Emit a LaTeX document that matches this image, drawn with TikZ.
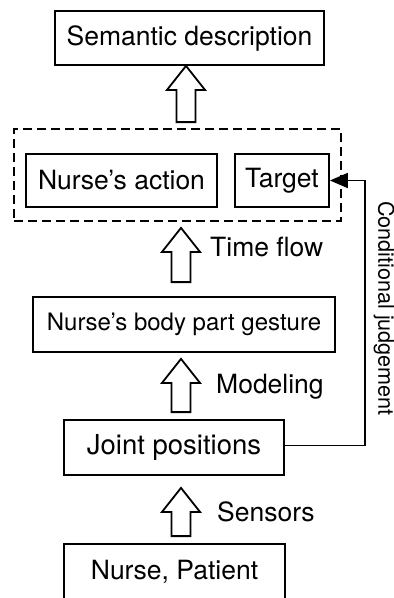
\documentclass[tikz,border=0pt]{standalone}
\usepackage{fontspec}
\setmainfont{TeX Gyre Heros}
\usetikzlibrary{calc,arrows.meta}

% hollow block arrow pointing up: #1 foot, #2 tip
\newcommand{\hollowup}[2]{%
  \draw[fatarrow] let \p1 = (#1), \p2 = (#2) in
    (\x2-9.5pt,\y1) -- (\x2-9.5pt,\y2-24pt) -- (\x2-19pt,\y2-24pt)
    -- (\x2,\y2) -- (\x2+19pt,\y2-24pt) -- (\x2+9.5pt,\y2-24pt)
    -- (\x2+9.5pt,\y1) -- cycle;}

\begin{document}
\begin{tikzpicture}[x=1pt, y=-1pt, line join=miter,
    box/.style={draw, line width=1.8pt, inner sep=0pt, font=\fontsize{26.5}{30}\selectfont},
    fatarrow/.style={draw, line width=1.8pt, fill=white},
    lbl/.style={anchor=west, inner sep=0pt, font=\fontsize{26.5}{30}\selectfont}]

    \clip (0,0) rectangle (394,598);

    % --- 1. Processing stages ---
    \node[box, minimum width=269, minimum height=54] (semantic) at (189.5,38) {Semantic description};
    \node[box, dash pattern=on 9pt off 5pt, minimum width=327, minimum height=92] (group) at (177.5,175) {};
    \node[box, minimum width=191, minimum height=53] (action) at (121.5,180.5) {Nurse’s action};
    \node[box, minimum width=94, minimum height=53] (target) at (282,180.5) {Target};
    \node[box, minimum width=302, minimum height=55, font=\fontsize{24}{28}\selectfont] (gesture) at (184,324.5) {Nurse’s body part gesture};
    \node[box, minimum width=220, minimum height=55, font=\fontsize{27.5}{30}\selectfont] (joints) at (174,447.5) {Joint positions};
    \node[box, minimum width=221, minimum height=56] (persons) at (174.5,572) {Nurse, Patient};

    % --- 2. Block arrows between stages ---
    \coordinate (topx) at (186,0);
    \coordinate (midx) at (181,0);
    \hollowup{$(group.north -| topx)+(0,-6)$}{semantic.south -| topx}
    \hollowup{$(gesture.north -| midx)+(0,-14)$}{$(group.south -| midx)+(0,6)$}
    \hollowup{$(joints.north -| midx)+(0,-7)$}{$(gesture.south -| midx)+(0,6)$}
    \hollowup{$(persons.north -| midx)+(0,-7)$}{$(joints.south -| midx)+(0,12)$}

    \node[lbl] (timeflow) at (210,247) {Time flow};
    \node[lbl] (modeling) at (216,387) {Modeling};
    \node[lbl] (sensors) at (217,512) {Sensors};

    % --- 3. Feedback from joints to target ---
    \coordinate (rail) at (365,0);
    \draw[line width=1.8pt, -{Triangle[length=18pt,width=15pt]}]
        ([yshift=2pt]joints.east) -| (rail |- target.east) -- (target.east);
    \node[inner sep=0pt, rotate=-90, font=\fontsize{21.6}{26}\selectfont] (cond) at (384,308.5) {Conditional judgement};
\end{tikzpicture}
\end{document}
